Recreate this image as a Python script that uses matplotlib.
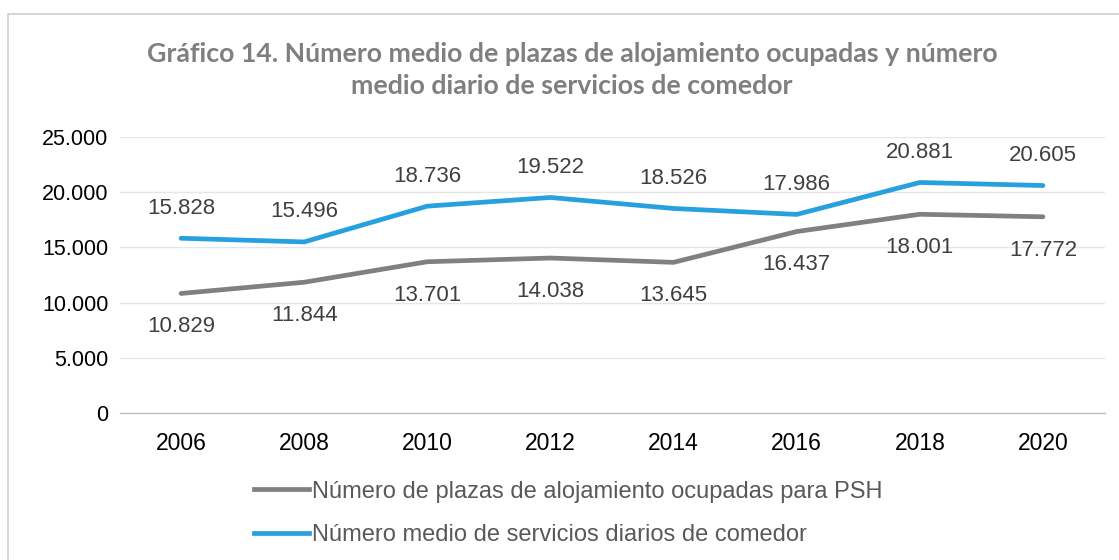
import matplotlib
matplotlib.use("Agg")
import matplotlib.pyplot as plt
from matplotlib.patches import Rectangle
from matplotlib.lines import Line2D

years = ["2006", "2008", "2010", "2012", "2014", "2016", "2018", "2020"]
plazas = [10829, 11844, 13701, 14038, 13645, 16437, 18001, 17772]
comedor = [15828, 15496, 18736, 19522, 18526, 17986, 20881, 20605]
yticks = [0, 5000, 10000, 15000, 20000, 25000]
ytick_labels = ["0", "5.000", "10.000", "15.000", "20.000", "25.000"]
series_names = ["Número de plazas de alojamiento ocupadas para PSH",
                "Número medio de servicios diarios de comedor"]
title = "Gráfico 14. Número medio de plazas de alojamiento ocupadas y número\nmedio diario de servicios de comedor"

GRAY = "#808080"
BLUE = "#26a0de"
TXT = "#404040"

def fmt(v):
    return f"{v:,}".replace(",", ".")

fig = plt.figure(figsize=(11.19, 5.60), dpi=100)
fig.patches.append(Rectangle((8/1119, -0.1), 1.2, 1 - 14/560 + 0.1, transform=fig.transFigure,
                             fill=False, edgecolor="#d0d0d0", linewidth=1.2))
ax = fig.add_axes([119.5/1119, 1 - 413/560, (1104.5-119.5)/1119, (413-137)/560])
x = list(range(len(years)))
ax.plot(x, plazas, color=GRAY, linewidth=3.4, solid_capstyle="round")
ax.plot(x, comedor, color=BLUE, linewidth=3.4, solid_capstyle="round")
ax.set_xlim(-0.5, len(years) - 0.5)
ax.set_ylim(0, 25000)
ax.set_yticks(yticks)
ax.set_yticklabels(ytick_labels)
ax.set_xticks(x)
ax.set_xticklabels(years)
ax.tick_params(axis="x", length=0, labelsize=16.5, labelcolor="#000000", pad=14)
ax.tick_params(axis="y", length=0, labelsize=15.5, labelcolor="#000000", pad=8)
for lab in ax.get_xticklabels() + ax.get_yticklabels():
    lab.set_fontfamily("Liberation Sans")
ax.grid(axis="y", color="#e6e6e6", linewidth=1)
ax.set_axisbelow(True)
for s in ["top", "right", "left"]:
    ax.spines[s].set_visible(False)
ax.spines["bottom"].set_color("#bfbfbf")
ax.spines["bottom"].set_linewidth(1)

for xi, v in zip(x, comedor):
    ax.annotate(fmt(v), (xi, v), xytext=(0, 21.6), textcoords="offset points",
                ha="center", va="center", fontsize=16, color=TXT, family="Liberation Sans")
for xi, v in zip(x, plazas):
    ax.annotate(fmt(v), (xi, v), xytext=(0, -24), textcoords="offset points",
                ha="center", va="center", fontsize=16, color=TXT, family="Liberation Sans")

fig.text(572/1119, 1 - 70/560, title, ha="center", va="center", fontsize=19.3,
         fontweight="bold", color="#7f7f7f", family="Lato", linespacing=1.35)

handles = [Line2D([0], [0], color=GRAY, linewidth=3.4),
           Line2D([0], [0], color=BLUE, linewidth=3.4)]
leg = fig.legend(handles, series_names, loc="center left",
                 bbox_to_anchor=(237/1119, 1 - 513.5/560), frameon=False,
                 prop={"family": "Liberation Sans", "size": 17}, handlelength=2.35,
                 handletextpad=0.12, labelspacing=0.92, labelcolor="#595959",
                 borderpad=0.2)

fig.savefig("out.png", dpi=100)
